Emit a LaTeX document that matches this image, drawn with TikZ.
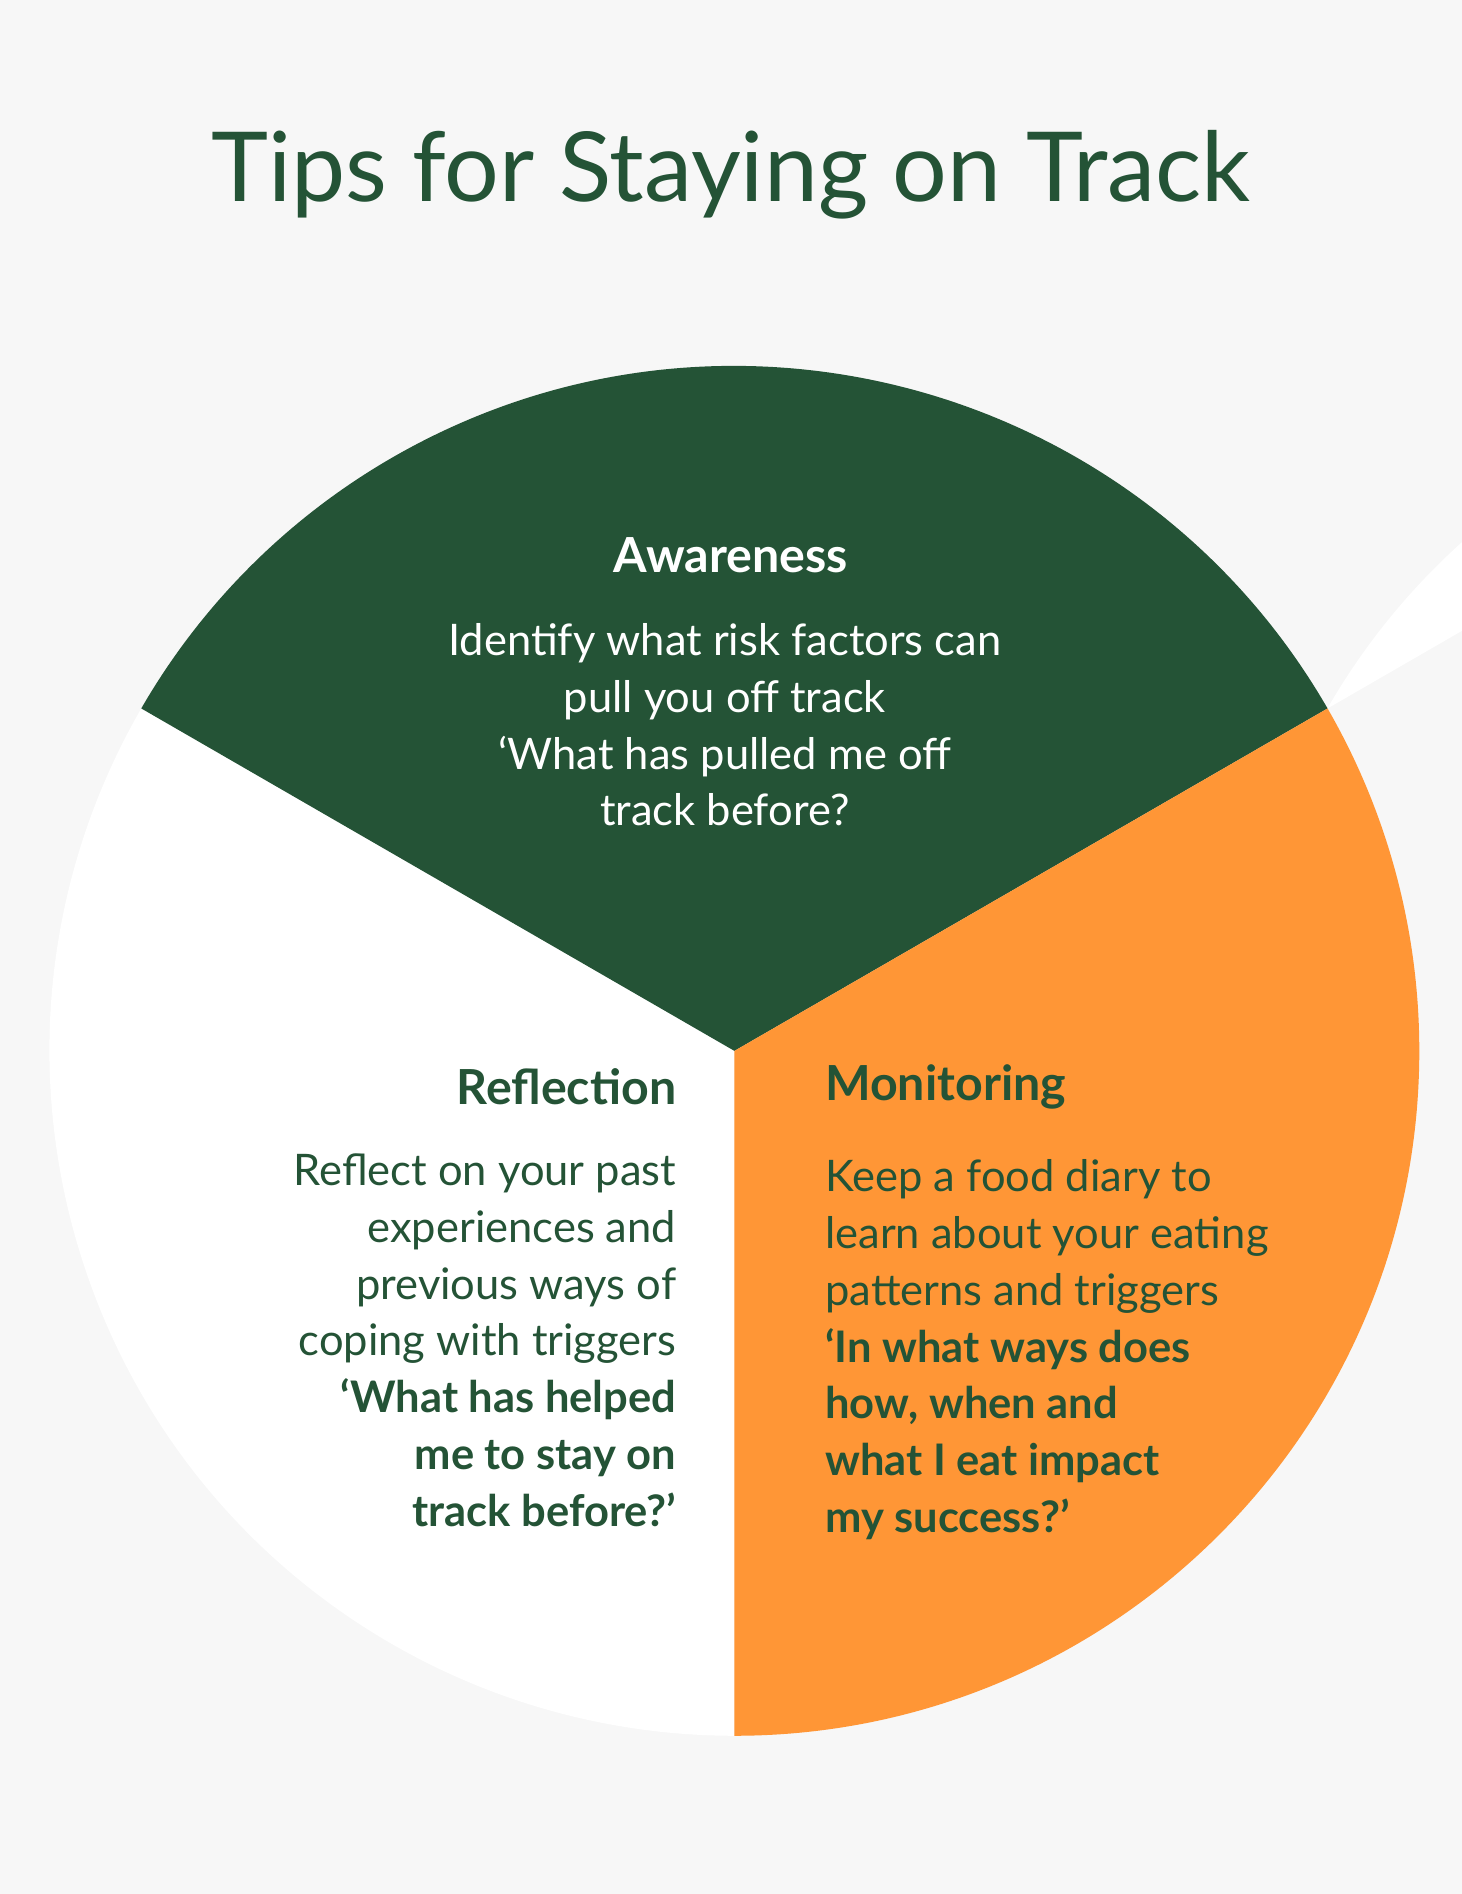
\documentclass[tikz,border=0pt]{standalone}
\usepackage{fontspec}
\setmainfont{Lato}
\definecolor{bg}{HTML}{F7F7F7}
\definecolor{dg}{HTML}{245336}
\definecolor{og}{HTML}{FF9636}
\begin{document}
\begin{tikzpicture}[x=1pt,y=-1pt,
  body/.style={font=\fontsize{36}{47}\selectfont,inner sep=0pt},
  head/.style={font=\fontsize{40}{48}\selectfont\bfseries,inner sep=0pt}]
\fill[bg] (0,0) rectangle (1210,1568);
\useasboundingbox (0,0) rectangle (1210,1568);
\coordinate (c) at (608,870);
\fill[white] (c) -- ++(150:-567 and 567) arc[start angle=150,end angle=270,radius=567] -- cycle;
\begin{scope}[y=1pt]
\coordinate (c2) at (608,-870);
\fill[white] (c2) -- ++(150:567) arc[start angle=150,end angle=270,radius=567] -- cycle;
\fill[dg] (c2) -- ++(30:567) arc[start angle=30,end angle=150,radius=567] -- cycle;
\fill[og] (c2) -- ++(-90:567) arc[start angle=-90,end angle=30,radius=567] -- cycle;
\end{scope}
\node[text=dg,font=\fontsize{80}{90}\selectfont,inner sep=0pt] (title) at (605,145) {Tips for Staying on Track};
\node[head,text=white] (aw) at (605,460) {Awareness};
\node[body,text=white,align=center,anchor=north] (awt) at (600,516) {Identify what risk factors can\\pull you off track\\‘What has pulled me off\\track before?};
\node[head,text=dg,anchor=east] (re) at (560,900) {Reflection};
\node[body,text=dg,align=right,anchor=north east] (ret) at (560,955) {Reflect on your past\\experiences and\\previous ways of\\coping with triggers\\\textbf{‘What has helped}\\\textbf{me to stay on}\\\textbf{track before?’}};
\node[head,text=dg,anchor=west] (mo) at (683,900) {Monitoring};
\node[body,text=dg,align=left,anchor=north west] (mot) at (683,960) {Keep a food diary to\\learn about your eating\\patterns and triggers\\\textbf{‘In what ways does}\\\textbf{how, when and}\\\textbf{what I eat impact}\\\textbf{my success?’}};
\end{tikzpicture}
\end{document}
